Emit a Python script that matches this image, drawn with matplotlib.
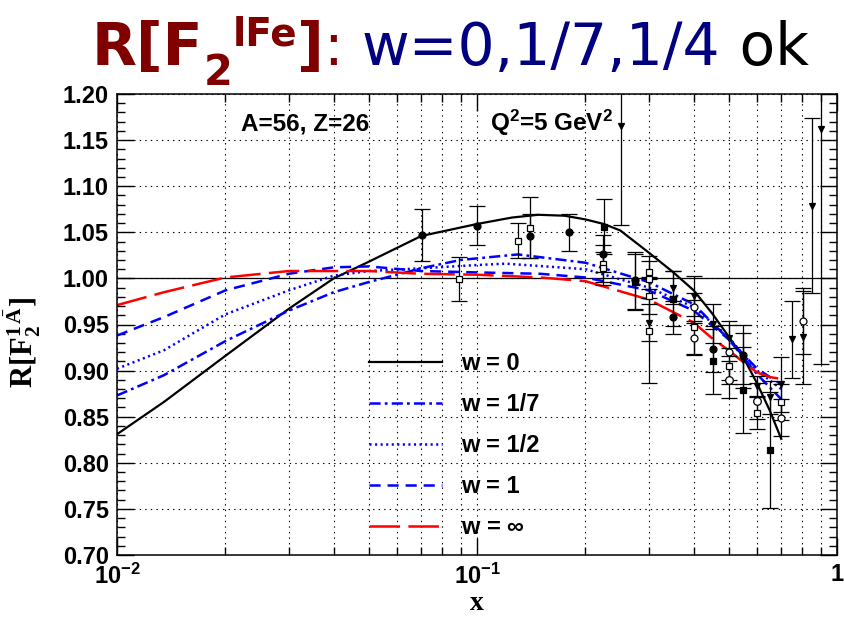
import matplotlib
matplotlib.use('Agg')
from matplotlib import pyplot as plt
from matplotlib.ticker import MultipleLocator, FixedLocator, FixedFormatter, LogLocator, NullFormatter
from matplotlib.lines import Line2D

plt.rcParams['font.family'] = ['Liberation Sans', 'DejaVu Sans']
plt.rcParams['font.weight'] = 'bold'
plt.rcParams['mathtext.fontset'] = 'custom'
plt.rcParams['mathtext.rm'] = 'Liberation Sans:bold'
plt.rcParams['mathtext.it'] = 'Liberation Sans:bold'
plt.rcParams['mathtext.bf'] = 'Liberation Serif:bold'
plt.rcParams['lines.scale_dashes'] = False

# model curves, R(x)
X_W0 = [0.01, 0.0135, 0.02, 0.03, 0.04, 0.05, 0.07, 0.1, 0.125, 0.148, 0.175, 0.2, 0.225, 0.25, 0.3, 0.35, 0.4, 0.45, 0.5, 0.55, 0.6, 0.65, 0.70]
R_W0 = [0.831, 0.866, 0.916, 0.967, 1.000, 1.018, 1.046, 1.059, 1.066, 1.069, 1.068, 1.064, 1.059, 1.052, 1.028, 1.007, 0.987, 0.962, 0.937, 0.914, 0.886, 0.857, 0.826]

X_W17 = [0.01, 0.0135, 0.02, 0.03, 0.04, 0.05, 0.06, 0.07, 0.09, 0.13, 0.2, 0.3, 0.4, 0.5, 0.6, 0.7]
R_W17 = [0.873, 0.895, 0.932, 0.965, 0.985, 0.996, 1.004, 1.011, 1.020, 1.026, 1.017, 0.996, 0.972, 0.934, 0.896, 0.869]

X_W12 = [0.01, 0.0135, 0.02, 0.03, 0.04, 0.05, 0.07, 0.1, 0.12, 0.2, 0.3, 0.4, 0.5, 0.6, 0.7]
R_W12 = [0.902, 0.922, 0.961, 0.987, 1.003, 1.008, 1.011, 1.0145, 1.016, 1.010, 0.990, 0.969, 0.936, 0.900, 0.880]

X_W1 = [0.01, 0.0135, 0.02, 0.03, 0.04, 0.05, 0.07, 0.1, 0.15, 0.2, 0.3, 0.4, 0.5, 0.6, 0.7]
R_W1 = [0.938, 0.958, 0.987, 1.005, 1.012, 1.013, 1.008, 1.0065, 1.005, 1.001, 0.987, 0.965, 0.934, 0.902, 0.885]

X_WINF = [0.01, 0.0135, 0.02, 0.03, 0.05, 0.07, 0.1, 0.15, 0.2, 0.3, 0.4, 0.45, 0.5, 0.55, 0.6, 0.65, 0.7]
R_WINF = [0.971, 0.985, 1.001, 1.008, 1.008, 1.005, 1.004, 1.001, 0.997, 0.977, 0.952, 0.935, 0.922, 0.909, 0.898, 0.893, 0.891]

LABELS = ['w = 0', 'w = 1/7', 'w = 1/2', 'w = 1', r'w = $\infty$']

# measured ratios, grouped by marker
FC_X = [0.0702, 0.100, 0.140, 0.1805, 0.2244, 0.275, 0.351, 0.451, 0.549]
FC_Y = [1.047, 1.057, 1.046, 1.050, 1.027, 0.998, 0.958, 0.923, 0.917]
FC_E = [0.028, 0.021, 0.024, 0.020, 0.020, 0.031, 0.018, 0.025, 0.032]

OS_X = [0.0893, 0.1297, 0.140, 0.2244, 0.2244, 0.301, 0.301, 0.301, 0.301, 0.40]
OS_Y = [0.999, 1.041, 1.055, 1.016, 1.011, 1.0065, 0.999, 0.981, 0.943, 0.947]
OS_E = [0.024, 0.019, 0.033, 0.020, 0.018, 0.018, 0.020, 0.020, 0.056, 0.030]

FS_X = [0.2254, 0.275, 0.351, 0.451, 0.549, 0.652]
FS_Y = [1.056, 0.996, 0.978, 0.910, 0.879, 0.814]
FS_E = [0.030, 0.030, 0.030, 0.035, 0.047, 0.063]

TR_X = [0.2506, 0.301, 0.351, 0.40, 0.451, 0.502, 0.549, 0.601, 0.652, 0.70, 0.751, 0.803, 0.851, 0.901]
TR_Y = [1.165, 0.952, 0.990, 0.981, 0.951, 0.935, 0.911, 0.883, 0.871, 0.885, 0.934, 0.936, 1.079, 1.162]
TR_E = [0.107, 0.020, 0.018, 0.022, 0.021, 0.019, 0.030, 0.011, 0.018, 0.030, 0.042, 0.050, 0.095, 0.255]

OC_X = [0.40, 0.40, 0.502, 0.70, 0.803]
OC_Y = [0.969, 0.935, 0.920, 0.849, 0.954]
OC_E = [0.015, 0.017, 0.030, 0.020, 0.036]

CP_X = [0.502, 0.601]
CP_Y = [0.890, 0.867]
CP_E = [0.020, 0.020]

SP_X = [0.502, 0.601, 0.70]
SP_Y = [0.905, 0.854, 0.866]
SP_E = [0.020, 0.017, 0.020]

W, H = 844, 619
fig = plt.figure(figsize=(W / 100, H / 100), dpi=100)
ax = fig.add_axes([117 / W, 1 - 555 / H, 720 / W, 461 / H])

grid_kw = dict(color='k', lw=0.8, ls=(0, (1, 3)))
ax.set_xscale('log')
ax.set_xlim(0.01, 1)
ax.set_ylim(0.70, 1.20)
ax.xaxis.set_major_locator(FixedLocator([0.01, 0.1, 1]))
ax.xaxis.set_major_formatter(FixedFormatter([r'$\mathrm{10^{-2}}$', r'$\mathrm{10^{-1}}$', '1']))
ax.xaxis.set_minor_locator(LogLocator(base=10, subs=range(2, 10)))
ax.xaxis.set_minor_formatter(NullFormatter())
ax.yaxis.set_major_locator(MultipleLocator(0.05))
ax.yaxis.set_minor_locator(MultipleLocator(0.01))
ax.yaxis.set_major_formatter(matplotlib.ticker.FormatStrFormatter('%.2f'))
ax.grid(True, which='both', axis='x', **grid_kw)
ax.grid(True, which='major', axis='y', **grid_kw)
ax.set_axisbelow(True)
ax.tick_params(which='both', direction='in', top=True, right=True, width=1, labelsize=17)
ax.tick_params(which='major', length=12, pad=6)
ax.tick_params(which='minor', length=6)
for s in ax.spines.values():
    s.set_linewidth(1.1)

ax.axhline(1.0, color='k', lw=0.9)

ax.plot(X_W0, R_W0, color='k', lw=1.6)
ax.plot(X_W17, R_W17, color='#0000ff', lw=1.8, dashes=(8, 3, 2, 3))
ax.plot(X_W12, R_W12, color='#0000ff', lw=1.8, dashes=(1.5, 2.5))
ax.plot(X_W1, R_W1, color='#0000ff', lw=1.8, dashes=(8, 5))
ax.plot(X_WINF, R_WINF, color='#ff0000', lw=1.8, dashes=(22, 6))

eb = dict(color='k', ecolor='k', elinewidth=0.9, capsize=6, capthick=0.9, ls='none', mew=0.9)
ax.errorbar(FC_X, FC_Y, yerr=FC_E, marker='o', ms=5, **eb)
ax.errorbar(OS_X, OS_Y, yerr=OS_E, marker='s', ms=5, mfc='white', **eb)
ax.errorbar(FS_X, FS_Y, yerr=FS_E, marker='s', ms=5, **eb)
ax.errorbar(TR_X, TR_Y, yerr=TR_E, marker='v', ms=5, **eb)
ax.errorbar(OC_X, OC_Y, yerr=OC_E, marker='o', ms=5, mfc='white', **eb)
ax.errorbar(CP_X, CP_Y, yerr=CP_E, marker='o', ms=5.5, mfc='white', **eb)
ax.plot(CP_X, CP_Y, ls='none', marker='+', ms=5.5, color='k', mew=0.9)
ax.errorbar(SP_X, SP_Y, yerr=SP_E, marker='s', ms=5, mfc='white', **eb)
ax.plot(SP_X, SP_Y, ls='none', marker='+', ms=5, color='k', mew=0.9)

handles = [Line2D([], [], color='k', lw=1.6),
           Line2D([], [], color='#0000ff', lw=1.8, dashes=(8, 3, 2, 3)),
           Line2D([], [], color='#0000ff', lw=1.8, dashes=(1.5, 2.5)),
           Line2D([], [], color='#0000ff', lw=1.8, dashes=(8, 5)),
           Line2D([], [], color='#ff0000', lw=1.8, dashes=(22, 6))]
ax.legend(handles, LABELS, loc='upper left', bbox_to_anchor=(0.35, 0.44), frameon=False,
          fontsize=17, handlelength=3.1, handletextpad=0.8, labelspacing=0.76,
          borderpad=0, borderaxespad=0)

ax.text(0.172, 0.920, 'A=56, Z=26', transform=ax.transAxes, fontsize=17.5, va='baseline')
ax.text(0.518, 0.920, r'Q$^{\mathrm{2}}$=5 GeV$^{\mathrm{2}}$', transform=ax.transAxes, fontsize=17.5, va='baseline')

ax.set_xlabel(r'$\mathbf{x}$', fontsize=20)
ax.xaxis.set_label_coords(0.5, -0.075)
ax.set_ylabel(r'$\mathbf{R[F_{2}^{1\,\bar{A}}]}$', fontsize=22)
ax.yaxis.set_label_coords(-0.103, 0.46)

# title made of coloured pieces, placed one after another
fig.canvas.draw()
rend = fig.canvas.get_renderer()
base = H - 65
pieces = [('R[F', 0, 42, '#800000', 'bold'),
          ('2', -20, 30, '#800000', 'bold'),
          ('lFe', 20, 28, '#800000', 'bold'),
          (']', 0, 42, '#800000', 'bold'),
          (': ', 0, 42, '#800000', 'normal'),
          ('w=0,1/7,1/4', 0, 42, '#000080', 'normal'),
          (' ok', 0, 42, 'black', 'normal')]
xpos = 92
for txt, dy, size, col, wt in pieces:
    t = fig.text(xpos / W, (base + dy) / H, txt, fontsize=size, color=col, fontweight=wt,
                 family='DejaVu Sans', va='baseline', ha='left')
    xpos = t.get_window_extent(rend).x1

fig.savefig('out.png', dpi=100)
